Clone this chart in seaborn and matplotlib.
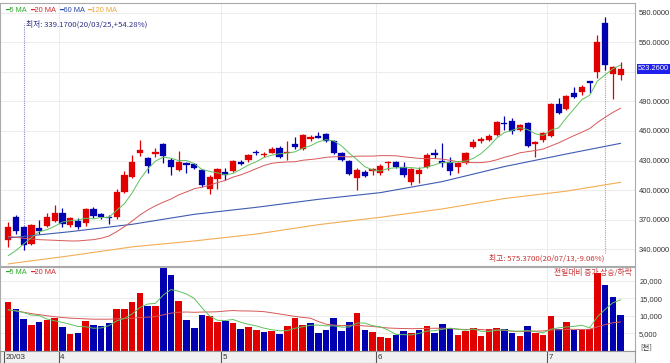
import numpy as np
import pandas as pd
import matplotlib
matplotlib.use('Agg')
import matplotlib.pyplot as plt
import matplotlib.transforms as mtransforms
import seaborn as sns

# trading days (US market, 2020-03-23 .. 2020-07-15)
dates = pd.bdate_range('2020-03-23', '2020-07-15', freq='C',
                       holidays=['2020-04-10', '2020-05-25', '2020-07-03'])

opens = [349.5, 372.5, 362.4, 345.1, 361.3, 363.7, 369.0, 377.2, 364.7, 369.0,
         366.4, 380.9, 375.5, 373.1, 372.5, 398.5, 413.7, 438.0, 432.3, 436.4,
         446.5, 430.6, 420.5, 427.3, 426.2, 420.5, 401.2, 411.3, 418.0, 419.5,
         428.9, 430.6, 438.7, 435.7, 438.1, 443.1, 437.4, 446.5, 442.1, 451.6,
         454.9, 456.6, 450.2, 438.1, 429.6, 412.0, 418.8, 419.5, 417.8, 427.2,
         428.3, 423.9, 408.0, 416.4, 423.9, 437.4, 429.9, 428.9, 423.2, 427.3,
         443.5, 449.9, 450.9, 456.0, 467.8, 470.2, 461.0, 467.8, 446.8, 450.9,
         455.0, 487.1, 482.0, 498.3, 499.6, 510.4, 520.2, 569.2, 517.5, 516.8]
highs = [368.0, 374.8, 363.7, 365.7, 369.8, 376.5, 385.0, 381.6, 372.5, 371.5,
         382.0, 382.9, 377.2, 374.8, 400.9, 419.5, 435.7, 450.9, 434.0, 442.5,
         448.2, 432.3, 439.7, 429.0, 427.3, 421.3, 415.4, 422.2, 422.2, 430.6,
         430.6, 436.4, 440.8, 439.1, 444.1, 445.1, 450.0, 454.0, 456.6, 455.6,
         459.3, 457.6, 450.9, 439.1, 430.6, 422.2, 420.5, 422.5, 426.2, 429.6,
         429.6, 428.9, 422.2, 423.9, 437.4, 441.5, 447.5, 434.0, 428.9, 438.7,
         451.6, 453.6, 456.9, 470.2, 475.2, 472.9, 467.5, 469.5, 450.2, 458.9,
         488.8, 493.2, 496.6, 505.0, 506.4, 511.1, 557.4, 575.37, 526.2, 530.3]
lows = [342.7, 355.5, 339.17, 344.5, 355.5, 362.4, 368.0, 362.9, 362.9, 360.2,
        363.9, 371.5, 370.5, 365.4, 370.5, 397.4, 412.7, 434.7, 417.0, 434.0,
        427.3, 415.4, 419.5, 417.1, 421.3, 403.5, 395.8, 400.9, 410.3, 418.8,
        425.2, 428.9, 435.7, 434.0, 437.4, 432.3, 430.6, 442.0, 440.8, 450.2,
        452.6, 449.2, 436.4, 429.6, 415.1, 400.2, 413.1, 415.4, 415.4, 420.5,
        422.2, 413.7, 405.3, 407.0, 422.2, 432.3, 423.8, 415.4, 417.1, 426.6,
        442.5, 448.2, 449.9, 454.9, 461.0, 457.3, 459.5, 443.5, 434.0, 449.2,
        453.6, 476.9, 481.0, 493.2, 496.6, 498.3, 513.5, 521.9, 492.2, 511.7]
closes = [362.4, 358.9, 344.4, 364.7, 358.9, 372.5, 376.5, 365.7, 371.5, 362.9,
          380.9, 373.8, 372.5, 372.0, 398.5, 415.1, 428.3, 440.8, 424.5, 438.7,
          435.0, 423.2, 428.3, 425.5, 422.8, 405.3, 413.0, 421.2, 415.5, 429.6,
          426.2, 435.4, 437.4, 437.0, 441.4, 433.3, 439.1, 443.5, 455.6, 453.6,
          453.0, 450.2, 437.4, 430.6, 416.1, 420.5, 414.4, 421.2, 424.9, 428.9,
          423.9, 415.4, 421.2, 420.8, 435.7, 435.4, 427.3, 419.5, 427.3, 438.0,
          449.2, 451.6, 454.9, 469.5, 466.8, 460.1, 466.1, 444.8, 448.5, 457.7,
          487.1, 478.0, 495.5, 494.2, 504.3, 509.0, 550.0, 527.0, 525.2, 523.26]
# volume, thousands of shares
volumes = [13800, 11900, 9000, 7400, 8100, 8800, 9400, 6700, 4600, 5000,
           8400, 7300, 7100, 7900, 11900, 11800, 13800, 16500, 12800, 12800,
           23700, 21700, 14200, 8800, 6400, 10300, 9800, 8100, 8500, 7900,
           6300, 6800, 5900, 5200, 5700, 4700, 7100, 9200, 7400, 7900,
           5000, 5900, 9300, 5500, 8100, 10700, 5900, 5400, 3900, 3500,
           4400, 5600, 5000, 6000, 6900, 5000, 7600, 6600, 4500, 5700,
           6600, 4200, 6200, 6400, 6200, 4900, 4200, 6900, 5000, 4400,
           10000, 6300, 8100, 5900, 6000, 6200, 22200, 18800, 15400, 10300]

# moving averages before a full window is available
ma5_head = [333.6, 338.7, 345.4, 351.9]
ma20_head = [353.2, 352.2, 351.2, 350.5, 349.8, 349.5, 349.2, 348.8, 348.5, 348.5,
             349.2, 349.8, 351.2, 353.5, 357.9, 363.0, 368.7, 374.8, 379.9]
vma5_head = [11700, 11400, 10900, 10200]
vma20_head = [11700, 11400, 11000, 10600, 10300, 10000, 9700, 9500, 9300, 9200,
              9100, 9000, 9000, 9000, 9100, 9200, 9300, 9500, 9600]
# long MAs at these bars
ma_long_idx = [0, 8, 16, 24, 32, 40, 48, 56, 64, 72, 79]
ma60_vals = [351.5, 357.9, 365.4, 375.5, 382.6, 390.7, 397.5, 408.7, 423.9, 436.7, 447.5]
ma120_vals = [325.2, 333.5, 342.5, 348.5, 355.5, 365.0, 372.5, 381.0, 391.5, 399.0, 408.0]

price_ticks = [340, 370, 400, 430, 460, 490, 520, 550, 580]
vol_ticks = [5000, 10000, 15000, 20000]
last_price = 523.26

RED = '#e10000'
BLUE = '#0000b0'
C5, C20, C60, C120 = '#5ec25e', '#d65858', '#3e5cb2', '#f2ad55'

sns.set_theme(style='white')
plt.rcParams['font.family'] = ['Liberation Sans', 'DejaVu Sans']
KR = ['Noto Sans CJK KR', 'DejaVu Sans']
NUM = 5.4

df = pd.DataFrame({'open': opens, 'high': highs, 'low': lows, 'close': closes,
                   'volume': volumes}, index=dates)
x = np.arange(len(df))

close = df['close'].reset_index(drop=True)
ma5 = close.rolling(5).mean()
ma5.iloc[:4] = ma5_head
ma20 = close.rolling(20).mean()
ma20.iloc[:19] = ma20_head
vol = df['volume'].reset_index(drop=True).astype(float)
vma5 = vol.rolling(5).mean()
vma5.iloc[:4] = vma5_head
vma20 = vol.rolling(20).mean()
vma20.iloc[:19] = vma20_head

fig = plt.figure(figsize=(6.7, 3.63), dpi=100)
W = 635 / 670
ax = fig.add_axes([0, 1 - 266 / 363, W, 263 / 363])
axv = fig.add_axes([0, 1 - 350.5 / 363, W, (350.5 - 267) / 363])
axb = fig.add_axes([0, 0, W, 12.5 / 363])
xlim = (-1.05, 80.85)

# month boundaries
month_start = [0] + [i for i in range(1, len(df)) if dates[i].month != dates[i - 1].month]
month_lab = ['20/03'] + [str(dates[i].month) for i in month_start[1:]]

# ---- price panel
up = df['close'].values >= df['open'].values
ccol = np.where(up, RED, BLUE)
for b in month_start[1:]:
    ax.axvline(b - 0.5, color='#ececec', lw=0.7, zorder=0)
ax.vlines(x, df['low'], df['high'], colors=ccol, lw=0.9, zorder=2)
body = (df['close'] - df['open']).abs().clip(lower=0.9).values
bot = df[['open', 'close']].min(axis=1).values
ax.bar(x, body, bottom=bot, width=0.8, color=ccol, edgecolor=ccol, lw=0.2, zorder=2)

sns.lineplot(x=ma_long_idx, y=ma120_vals, ax=ax, color=C120, lw=0.8, zorder=3)
sns.lineplot(x=ma_long_idx, y=ma60_vals, ax=ax, color=C60, lw=0.8, zorder=3)
sns.lineplot(x=x, y=ma20.values, ax=ax, color=C20, lw=0.7, zorder=3)
sns.lineplot(x=x, y=ma5.values, ax=ax, color=C5, lw=0.7, zorder=3)

ax.set_xlim(*xlim)
ax.set_ylim(323.1, 589.8)
ax.set_yticks(price_ticks)
ax.set_yticklabels(['' if t == 520 else f'{t:.4f}' for t in price_ticks])
ax.yaxis.tick_right()
ax.tick_params(axis='y', length=0, pad=2.5, labelsize=NUM, labelcolor='#333333')
ax.set_xticks([])
ax.set_xlabel('')
ax.set_ylabel('')
ax.grid(axis='y', color='#ececec', lw=0.7)
ax.set_axisbelow(True)
for s in ax.spines.values():
    s.set_color('#aaaaaa')
    s.set_linewidth(0.8)

trans = mtransforms.blended_transform_factory(ax.transAxes, ax.transData)
ax.text(1.005, last_price, f'{last_price:.4f}', transform=trans, fontsize=NUM,
        color='white', va='center', ha='left', zorder=5,
        bbox=dict(boxstyle='square,pad=0.2', fc='#2020ee', ec='none'))

# legend
leg = [('5 MA', '#2eaa2e', 5), ('20 MA', '#d22a2a', 30), ('60 MA', '#2a48aa', 59), ('120 MA', '#eea436', 87)]
for lab, c, px in leg:
    ax.text(px / 635, 1 - 7 / 263, '━' + lab, transform=ax.transAxes, fontsize=5.3,
            color=c, va='center', ha='left')

# lowest / highest markers
i_lo = int(np.argmin(lows))
i_hi = int(np.argmax(highs))
ax.vlines(i_lo, lows[i_lo], 569.5, colors='#8a8ac4', lw=0.8, linestyles=(0, (1, 1)), zorder=1)
ax.text(i_lo + 0.25, 568.5, '최저: 339.1700(20/03/25,+54.28%)', fontsize=5.6,
        color='#2f2f8a', va='center', ha='left', family=KR)
ax.vlines(i_hi, 336.5, highs[i_hi], colors='#e48a8a', lw=0.8, linestyles=(0, (1, 1)), zorder=1)
ax.text(i_hi - 0.1, 331.0, '최고: 575.3700(20/07/13,-9.06%)', fontsize=5.6,
        color='#c83232', va='center', ha='right', family=KR)

# ---- volume panel
vprev = np.r_[-np.inf, df['close'].values[:-1]]
vcol = np.where(df['close'].values >= vprev, RED, BLUE)
for b in month_start[1:]:
    axv.axvline(b - 0.5, color='#ececec', lw=0.7, zorder=0)
axv.bar(x, vol.values, width=0.85, color=vcol, lw=0, zorder=2)
sns.lineplot(x=x, y=vma20.values, ax=axv, color=C20, lw=0.7, zorder=3)
sns.lineplot(x=x, y=vma5.values, ax=axv, color=C5, lw=0.7, zorder=3)
axv.set_xlim(*xlim)
axv.set_ylim(0, 24000)
axv.set_yticks(vol_ticks)
axv.set_yticklabels([f'{t:,}' for t in vol_ticks])
axv.yaxis.tick_right()
axv.tick_params(axis='y', length=0, pad=3, labelsize=NUM, labelcolor='#333333')
axv.set_xticks([])
axv.set_xlabel('')
axv.set_ylabel('')
axv.grid(axis='y', color='#ececec', lw=0.7)
axv.set_axisbelow(True)
for s in axv.spines.values():
    s.set_color('#aaaaaa')
    s.set_linewidth(0.8)
vtrans = mtransforms.blended_transform_factory(axv.transAxes, axv.transData)
axv.text(1.008, 600, '[천]', transform=vtrans, fontsize=NUM, color='#333333',
         va='center', ha='left', family=KR)
for lab, c, px in leg[:2]:
    axv.text(px / 635, 1 - 5.5 / 83.5, '━' + lab, transform=axv.transAxes, fontsize=5.3,
             color=c, va='center', ha='left')
axv.text(632 / 635, 1 - 6.5 / 83.5, '전일대비 증가 상승/하락', transform=axv.transAxes,
         fontsize=5.6, color='#c83232', va='center', ha='right', family=KR, zorder=5)

# ---- date band
axb.set_facecolor('#f1f1f1')
axb.set_xlim(*xlim)
axb.set_ylim(0, 1)
axb.set_xticks([])
axb.set_yticks([])
for s in axb.spines.values():
    s.set_color('#999999')
    s.set_linewidth(0.8)
for b, lab in zip(month_start, month_lab):
    axb.vlines(b - 0.5, 0, 1, colors='#555555', lw=0.8)
    axb.text(b - 0.3, 0.45, lab, fontsize=NUM + 0.4, color='#333333', va='center', ha='left')

fig.savefig('out.png', dpi=100, facecolor='white')
